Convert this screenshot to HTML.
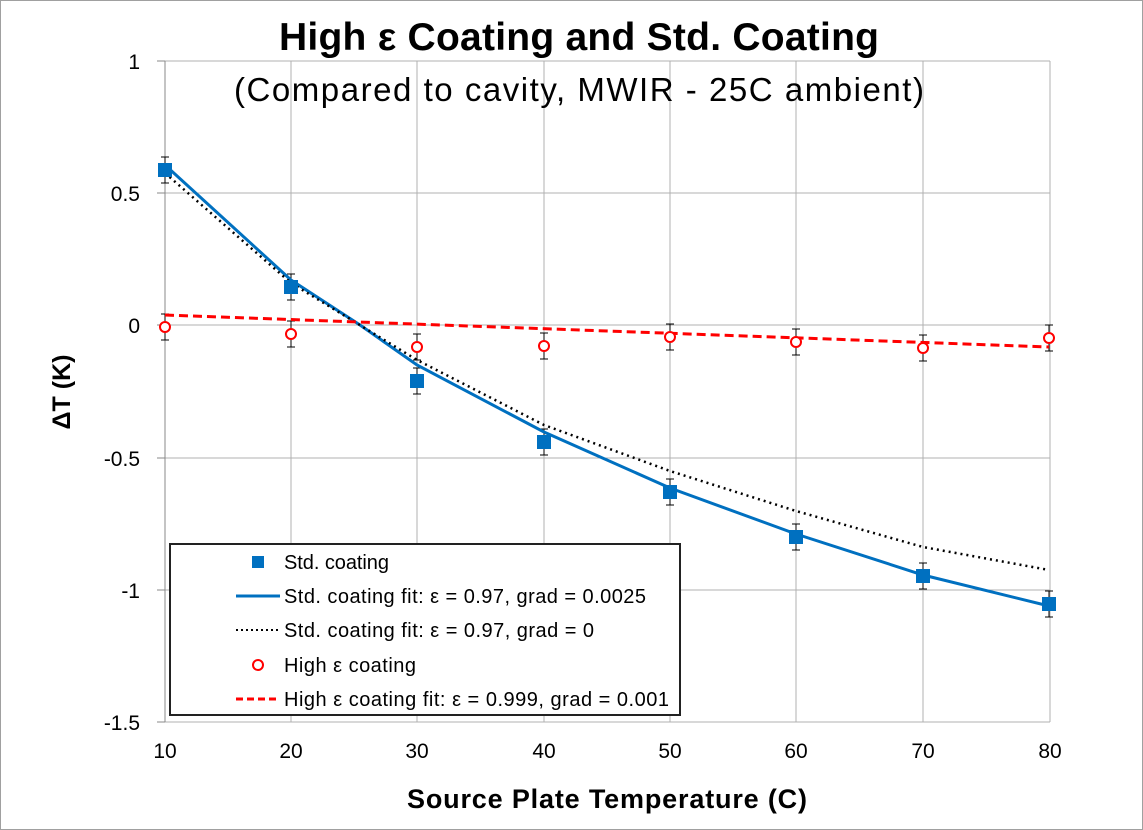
<!DOCTYPE html>
<html><head><meta charset="utf-8"><style>
body{margin:0;background:#fff}
svg{display:block;font-family:"Liberation Sans","DejaVu Sans",sans-serif}
</style></head><body>
<svg width="1143" height="830" viewBox="0 0 1143 830">
<rect x="0.5" y="0.5" width="1142" height="829" fill="#fff" stroke="#a0a0a0"/>
<g stroke="#b0b0b0" stroke-width="1">
<line x1="165" y1="61" x2="1050" y2="61"/>
<line x1="165" y1="193" x2="1050" y2="193"/>
<line x1="165" y1="325" x2="1050" y2="325"/>
<line x1="165" y1="458" x2="1050" y2="458"/>
<line x1="165" y1="590" x2="1050" y2="590"/>
<line x1="165" y1="722" x2="1050" y2="722"/>
<line x1="291" y1="61" x2="291" y2="722"/>
<line x1="417" y1="61" x2="417" y2="722"/>
<line x1="544" y1="61" x2="544" y2="722"/>
<line x1="670" y1="61" x2="670" y2="722"/>
<line x1="796" y1="61" x2="796" y2="722"/>
<line x1="923" y1="61" x2="923" y2="722"/>
<line x1="1050" y1="61" x2="1050" y2="722"/>
<line x1="165" y1="61" x2="165" y2="722" stroke="#888"/>
</g>
<g stroke="#888"><line x1="157" y1="61" x2="165" y2="61"/><line x1="157" y1="193" x2="165" y2="193"/><line x1="157" y1="325" x2="165" y2="325"/><line x1="157" y1="458" x2="165" y2="458"/><line x1="157" y1="590" x2="165" y2="590"/><line x1="157" y1="722" x2="165" y2="722"/></g>
<g font-size="21" fill="#000" text-anchor="end">
<text x="140" y="69">1</text><text x="140" y="201">0.5</text><text x="140" y="333">0</text><text x="140" y="466">-0.5</text><text x="140" y="598">-1</text><text x="140" y="730">-1.5</text>
</g>
<g font-size="21" text-anchor="middle">
<text x="165" y="758">10</text><text x="291" y="758">20</text><text x="417" y="758">30</text><text x="544" y="758">40</text><text x="670" y="758">50</text><text x="796" y="758">60</text><text x="923" y="758">70</text><text x="1050" y="758">80</text>
</g>
<text x="579" y="50" font-size="39" font-weight="bold" text-anchor="middle" textLength="600">High ε Coating and Std. Coating</text>
<text x="579" y="101" font-size="33" text-anchor="middle" textLength="690">(Compared to cavity, MWIR - 25C ambient)</text>
<text x="607" y="808" font-size="27" font-weight="bold" text-anchor="middle" textLength="400">Source Plate Temperature (C)</text>
<text transform="translate(70,392) rotate(-90)" font-size="25" font-weight="bold" text-anchor="middle">ΔT (K)</text>
<g stroke="#000" stroke-width="1">
<path d="M165 157V183M161 157H169M161 183H169 M291 274V300M287 274H295M287 300H295 M417 368V394M413 368H421M413 394H421 M544 429V455M540 429H548M540 455H548 M670 479V505M666 479H674M666 505H674 M796 524V550M792 524H800M792 550H800 M923 563V589M919 563H927M919 589H927 M1049 591V617M1045 591H1053M1045 617H1053"/>
<path d="M165 314V340M161 314H169M161 340H169 M291 321V347M287 321H295M287 347H295 M417 334V360M413 334H421M413 360H421 M544 333V359M540 333H548M540 359H548 M670 324V350M666 324H674M666 350H674 M796 329V355M792 329H800M792 355H800 M923 335V361M919 335H927M919 361H927 M1049 325V351M1045 325H1053M1045 351H1053"/>
</g>
<polyline fill="none" stroke="#0070c0" stroke-width="3" points="165,165 291,280 360,325 417,365 544,432 670,488 796,534 923,575 1049,606"/>
<polyline fill="none" stroke="#000" stroke-width="2.5" stroke-dasharray="2,4" points="165,173 291,283 417,360 544,425 670,471 796,511 923,547 1049,570"/>
<line x1="165" y1="315" x2="1049" y2="347" stroke="#ff0000" stroke-width="3" stroke-dasharray="9,5"/>
<g fill="#0070c0">
<rect x="158" y="163" width="14" height="14"/><rect x="284" y="280" width="14" height="14"/><rect x="410" y="374" width="14" height="14"/><rect x="537" y="435" width="14" height="14"/><rect x="663" y="485" width="14" height="14"/><rect x="789" y="530" width="14" height="14"/><rect x="916" y="569" width="14" height="14"/><rect x="1042" y="597" width="14" height="14"/>
</g>
<g fill="#fff" stroke="#ff0000" stroke-width="2">
<circle cx="165" cy="327" r="5"/><circle cx="291" cy="334" r="5"/><circle cx="417" cy="347" r="5"/><circle cx="544" cy="346" r="5"/><circle cx="670" cy="337" r="5"/><circle cx="796" cy="342" r="5"/><circle cx="923" cy="348" r="5"/><circle cx="1049" cy="338" r="5"/>
</g>
<rect x="170" y="544" width="510" height="171" fill="#fff" stroke="#222" stroke-width="2"/>
<rect x="252" y="556" width="12" height="12" fill="#0070c0"/>
<line x1="236" y1="596" x2="280" y2="596" stroke="#0070c0" stroke-width="3"/>
<line x1="236" y1="630" x2="280" y2="630" stroke="#000" stroke-width="2" stroke-dasharray="2,3"/>
<circle cx="258" cy="665" r="5" fill="#fff" stroke="#f00" stroke-width="2"/>
<line x1="236" y1="699" x2="280" y2="699" stroke="#f00" stroke-width="3" stroke-dasharray="7,4"/>
<g font-size="20">
<text x="284" y="569" textLength="105">Std. coating</text>
<text x="284" y="603" textLength="362">Std. coating fit: ε = 0.97, grad = 0.0025</text>
<text x="284" y="637" textLength="310">Std. coating fit: ε = 0.97, grad = 0</text>
<text x="284" y="672" textLength="132">High ε coating</text>
<text x="284" y="706" textLength="385">High ε coating fit: ε = 0.999, grad = 0.001</text>
</g>
</svg>
</body></html>
